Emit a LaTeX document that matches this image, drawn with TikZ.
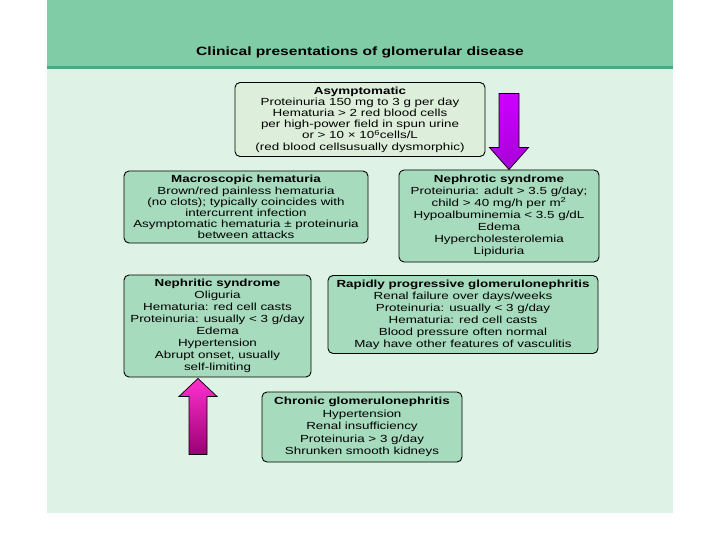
\documentclass[tikz,border=0pt]{standalone}
\usepackage{fontspec}
\setmainfont{Liberation Sans}
\newfontfamily\bx[FakeStretch=1.3]{Liberation Sans}
\usetikzlibrary{calc}
\definecolor{hdr}{HTML}{80CCA7}
\definecolor{hdrline}{HTML}{4FA585}
\definecolor{panel}{HTML}{DFF2E6}
\definecolor{boxfill}{HTML}{A6DBBE}
\definecolor{boxlight}{HTML}{DDEFDB}
\definecolor{vio}{HTML}{CC00FF}
\definecolor{viodark}{HTML}{A800D8}
\definecolor{pinktop}{HTML}{FF30D0}
\definecolor{pinkbot}{HTML}{9A0072}
\tikzset{
  card/.style={draw=black, line width=0.9pt, rounded corners=5pt, fill=boxfill,
    align=center, inner sep=0pt},
  bigarrow/.style={draw=black, line width=0.7pt},
}
\begin{document}
\begin{tikzpicture}[x=1pt,y=-1pt]
\useasboundingbox (0,0) rectangle (720,540);
% panel
\fill[panel] (47,0) rectangle (673,513);
\fill[hdr] (47,0) rectangle (673,66);
\fill[hdrline] (47,66) rectangle (673,69);
\node[font=\bx\fontsize{12}{14}\selectfont\bfseries] (title) at (360,52) {Clinical presentations of glomerular disease};

\node[card, fill=boxlight, minimum width=250, minimum height=74,
  font=\bx\fontsize{10.3}{11.2}\selectfont] (asym) at (360,119.5)
  {\textbf{Asymptomatic}\\Proteinuria 150 mg to 3 g per day\\Hematuria > 2 red blood cells\\per high-power field in spun urine\\or > 10 × 10\textsuperscript{6}cells/L\\(red blood cellsusually dysmorphic)};

\node[card, minimum width=244, minimum height=72,
  font=\bx\fontsize{10.3}{11.1}\selectfont] (macro) at (246,207)
  {\textbf{Macroscopic hematuria}\\Brown/red painless hematuria\\(no clots); typically coincides with\\intercurrent infection\\Asymptomatic hematuria ± proteinuria\\between attacks};

\node[card, minimum width=200, minimum height=92,
  font=\bx\fontsize{10.3}{12.1}\selectfont] (nephrotic) at (499,216)
  {\textbf{Nephrotic syndrome}\\Proteinuria: adult > 3.5 g/day;\\child > 40 mg/h per m\textsuperscript{2}\\Hypoalbuminemia < 3.5 g/dL\\Edema\\Hypercholesterolemia\\Lipiduria};

\node[card, minimum width=187, minimum height=102,
  font=\bx\fontsize{10.3}{12}\selectfont] (nephritic) at (217.5,326)
  {\textbf{Nephritic syndrome}\\Oliguria\\Hematuria: red cell casts\\Proteinuria: usually < 3 g/day\\Edema\\Hypertension\\Abrupt onset, usually\\self-limiting};

\node[card, minimum width=270, minimum height=78,
  font=\bx\fontsize{10.3}{12}\selectfont] (rpgn) at (463,314.5)
  {\textbf{Rapidly progressive glomerulonephritis}\\Renal failure over days/weeks\\Proteinuria: usually < 3 g/day\\Hematuria: red cell casts\\Blood pressure often normal\\May have other features of vasculitis};

\node[card, minimum width=200, minimum height=70,
  font=\bx\fontsize{10.3}{12.4}\selectfont] (chronic) at (362,427)
  {\textbf{Chronic glomerulonephritis}\\Hypertension\\Renal insufficiency\\Proteinuria > 3 g/day\\Shrunken smooth kidneys};

% down arrow into nephrotic syndrome
\path (nephrotic.north) ++(10,0) coordinate (dtip);
\shade[bigarrow, top color=vio, bottom color=viodark]
  (dtip) -- ++(-19.5,-22) -- ++(9.5,0) -- ++(0,-54) -- ++(20,0) -- ++(0,54) -- ++(9.5,0) -- cycle;

% up arrow into nephritic syndrome
\path (nephritic.south) ++(-19.5,1) coordinate (utip);
\shade[bigarrow, top color=pinktop, bottom color=pinkbot]
  (utip) -- ++(-19,18) -- ++(10,0) -- ++(0,58) -- ++(18,0) -- ++(0,-58) -- ++(10,0) -- cycle;
\end{tikzpicture}
\end{document}
